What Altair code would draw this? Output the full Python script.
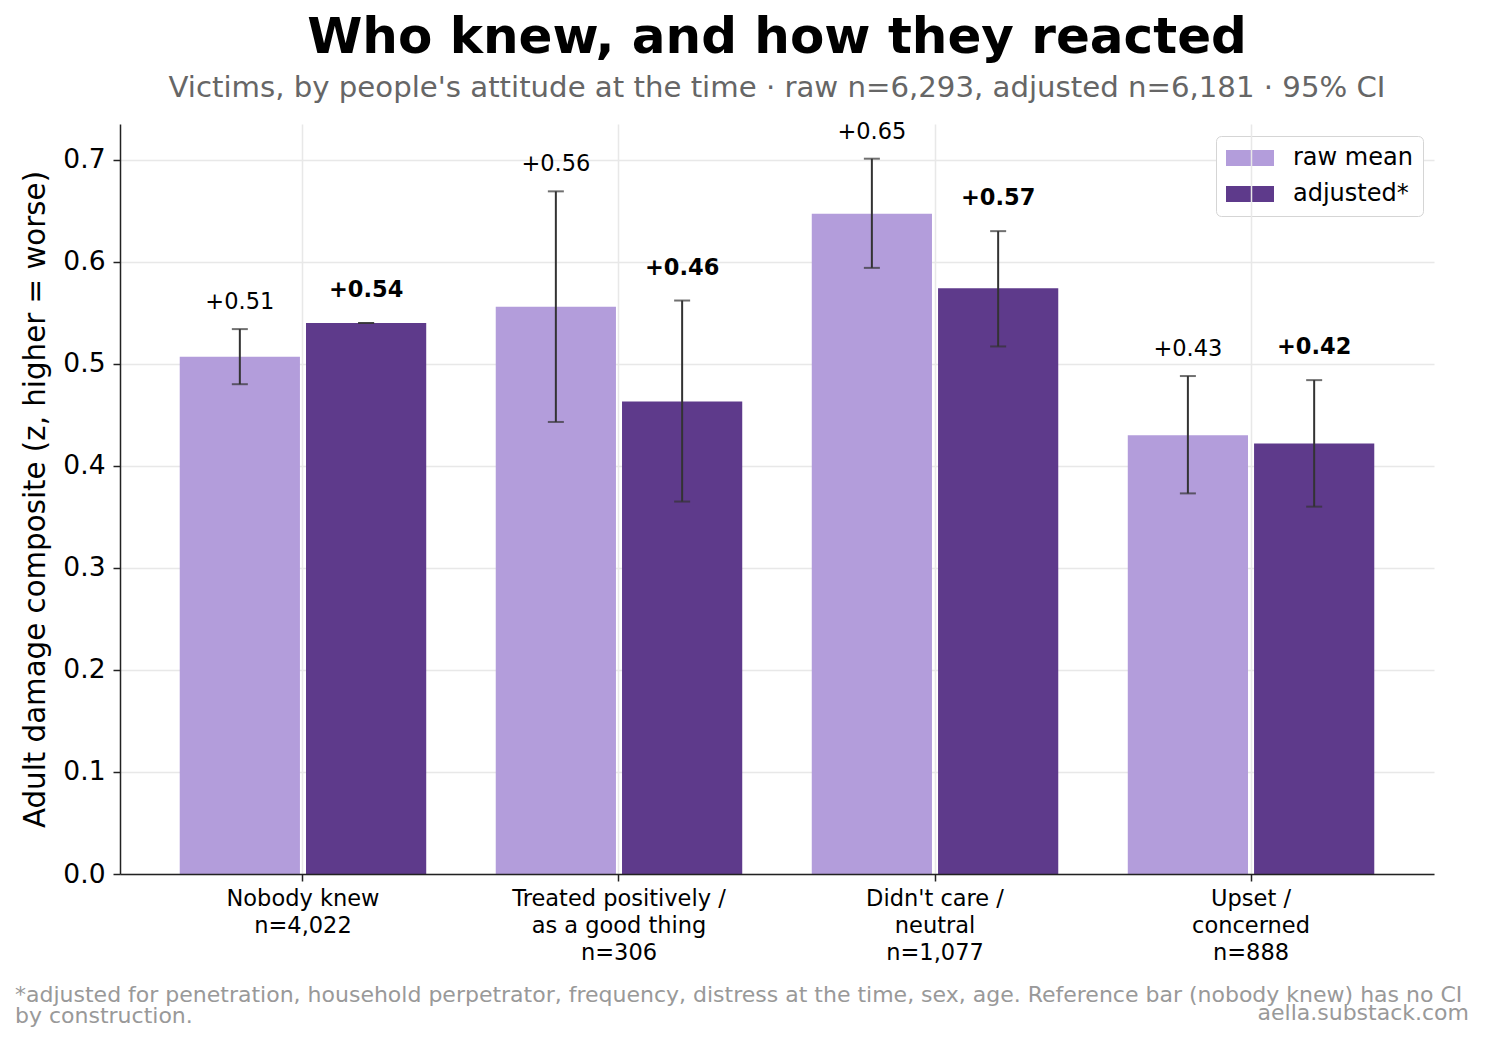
import altair as alt
import pandas as pd

# Categories (multi-line axis labels) and the two series
groups = [
    "Nobody knew\nn=4,022",
    "Treated positively /\nas a good thing\nn=306",
    "Didn't care /\nneutral\nn=1,077",
    "Upset /\nconcerned\nn=888",
]
series = ["raw mean", "adjusted*"]
colors = ["#b39ddb", "#5e3a8b"]

# Means and 95% confidence limits
raw_mean = [0.507, 0.556, 0.647, 0.430]
raw_lo = [0.480, 0.443, 0.594, 0.373]
raw_hi = [0.534, 0.669, 0.701, 0.488]
adj_mean = [0.540, 0.463, 0.574, 0.422]
adj_lo = [0.540, 0.365, 0.517, 0.360]
adj_hi = [0.540, 0.562, 0.630, 0.484]

y_ticks = [0.0, 0.1, 0.2, 0.3, 0.4, 0.5, 0.6, 0.7]

footnote = ("*adjusted for penetration, household perpetrator, frequency, distress at the time, "
            "sex, age. Reference bar (nobody knew) has no CI\nby construction.")
credit = "aella.substack.com"

rows = []
for g, m, lo, hi in zip(groups, raw_mean, raw_lo, raw_hi):
    rows.append({"group": g, "series": series[0], "mean": m, "lo": lo, "hi": hi})
for g, m, lo, hi in zip(groups, adj_mean, adj_lo, adj_hi):
    rows.append({"group": g, "series": series[1], "mean": m, "lo": lo, "hi": hi})
df = pd.DataFrame(rows)

FONT = "DejaVu Sans"
W, H = 1314, 750

x_enc = alt.X(
    "group:N",
    sort=groups,
    scale=alt.Scale(paddingInner=0.22, paddingOuter=0.189),
    axis=alt.Axis(
        title=None,
        labelExpr="split(datum.label, '\\n')",
        labelAngle=0,
        labelFontSize=22.5,
        labelLineHeight=27,
        labelColor="#000",
        labelPadding=6,
        labelOverlap=False,
        labelLimit=0,
        bandPosition=0.5,
        grid=True,
        gridColor="#e8e8e8",
        gridWidth=1.5,
        tickSize=7,
        tickColor="#222",
        tickWidth=1.5,
        domainColor="#222",
        domainWidth=1.5,
        zindex=1,
    ),
)
xoff_enc = alt.XOffset("series:N", sort=series, scale=alt.Scale(paddingInner=0.048))

y_axis = alt.Axis(
    title="Adult damage composite (z, higher = worse)",
    titleFontSize=29.3,
    titleFontWeight="normal",
    titleColor="#000",
    titlePadding=12,
    values=y_ticks,
    format=".1f",
    labelFontSize=26.5,
    labelColor="#000",
    labelPadding=8,
    grid=True,
    gridColor="#e8e8e8",
    gridWidth=1.5,
    tickSize=7,
    tickColor="#222",
    tickWidth=1.5,
    domainColor="#222",
    domainWidth=1.5,
)
y_scale = alt.Scale(domain=[0, 0.735], nice=False, zero=True)


def y(field):
    return alt.Y(f"{field}:Q", scale=y_scale, axis=y_axis)


base = alt.Chart(df).encode(x=x_enc, xOffset=xoff_enc)

bars = base.mark_bar().encode(
    y=y("mean"),
    color=alt.Color(
        "series:N",
        sort=series,
        scale=alt.Scale(domain=series, range=colors),
        legend=alt.Legend(
            title=None,
            orient="none",
            legendX=1096,
            legendY=12,
            direction="vertical",
            strokeColor="#d5d5d5",
            fillColor="#ffffff",
            padding=10,
            cornerRadius=5,
            symbolType="M-2,-0.667H2V0.667H-2Z",
            symbolSize=576,
            symbolOffset=12,
            symbolStrokeWidth=0,
            labelFontSize=24,
            labelColor="#000",
            labelOffset=31,
            rowPadding=12,
        ),
    ),
)

ci = base.mark_rule(color="#333333", strokeWidth=2).encode(y=y("lo"), y2="hi:Q")
cap_lo = base.mark_tick(color="#333333", thickness=2, size=16).encode(y=y("lo"))
cap_hi = base.mark_tick(color="#333333", thickness=2, size=16).encode(y=y("hi"))

lab_raw = base.transform_filter(alt.datum.series == series[0]).mark_text(
    fontSize=22.5, dy=-20, baseline="alphabetic", color="#000"
).encode(y=y("hi"), text=alt.Text("mean:Q", format="+.2f"))

lab_adj = base.transform_filter(alt.datum.series == series[1]).mark_text(
    fontSize=22.5, fontWeight="bold", dy=-26, baseline="alphabetic", color="#000"
).encode(y=y("hi"), text=alt.Text("mean:Q", format="+.2f"))

notes = alt.Chart(pd.DataFrame({"note": [footnote]})).mark_text(
    align="left", baseline="alphabetic", fontSize=22, color="#999999",
    lineBreak="\n", lineHeight=21.5,
).encode(x=alt.value(-105), y=alt.value(877.5), text="note:N")

credit_mark = alt.Chart(pd.DataFrame({"credit": [credit]})).mark_text(
    align="right", baseline="alphabetic", fontSize=22, color="#999999",
).encode(x=alt.value(1349), y=alt.value(896), text="credit:N")

chart = alt.layer(bars, ci, cap_lo, cap_hi, lab_raw, lab_adj, notes, credit_mark).properties(
    width=W,
    height=H,
    title=alt.TitleParams(
        text="Who knew, and how they reacted",
        subtitle="Victims, by people's attitude at the time · raw n=6,293, adjusted n=6,181 · 95% CI",
        font=FONT,
        fontSize=50,
        fontWeight="bold",
        color="#000",
        subtitleFont=FONT,
        subtitleFontSize=29.2,
        subtitleColor="#666666",
        subtitlePadding=11,
        anchor="middle",
        offset=17,
    ),
    autosize=alt.AutoSizeParams(type="none"),
    padding={"left": 120, "top": 124, "right": 51, "bottom": 169},
).configure(font=FONT).configure_view(stroke=None)

chart.save("out.html", embed_options={"renderer": "svg", "actions": False})
